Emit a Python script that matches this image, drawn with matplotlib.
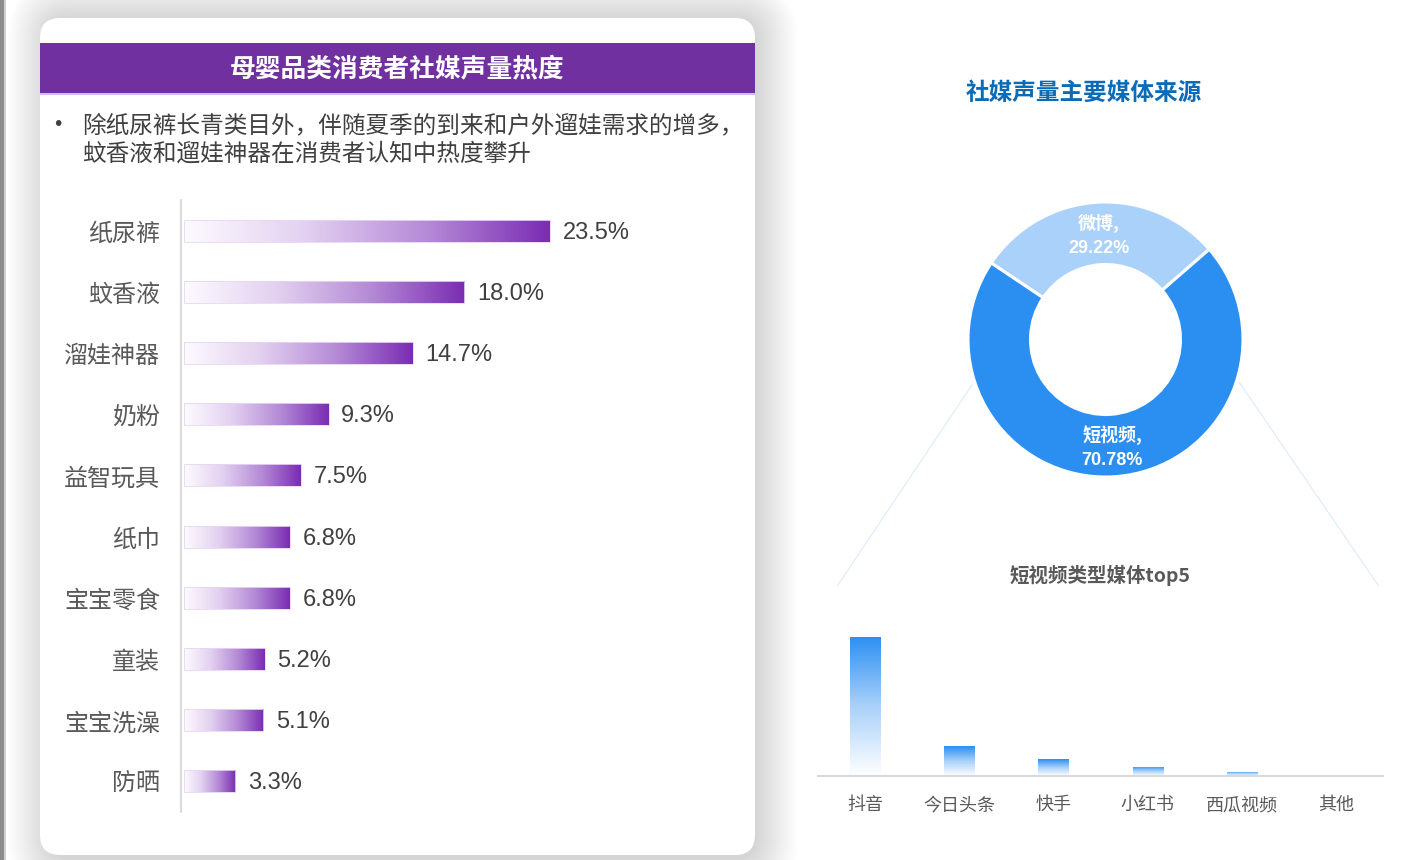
import numpy as np
import matplotlib
matplotlib.use('Agg')
import matplotlib.pyplot as plt
from matplotlib.patches import FancyBboxPatch, Rectangle
from matplotlib.colors import LinearSegmentedColormap

plt.rcParams['font.family'] = ['Liberation Sans', 'Noto Sans CJK SC', 'DejaVu Sans']

# ---------------- data ----------------
panel_title = '母婴品类消费者社媒声量热度'
bullet_lines = ['除纸尿裤长青类目外，伴随夏季的到来和户外遛娃需求的增多，',
                '蚊香液和遛娃神器在消费者认知中热度攀升']
categories = ['纸尿裤', '蚊香液', '溜娃神器', '奶粉', '益智玩具', '纸巾', '宝宝零食', '童装', '宝宝洗澡', '防晒']
shares = [23.5, 18.0, 14.7, 9.3, 7.5, 6.8, 6.8, 5.2, 5.1, 3.3]

donut_title = '社媒声量主要媒体来源'
media = ['微博', '短视频']
media_share = [29.22, 70.78]

sub_title = '短视频类型媒体top5'
platforms = ['抖音', '今日头条', '快手', '小红书', '西瓜视频', '其他']
platform_values = [65.8, 14.2, 8.0, 4.3, 1.9, 0.5]

# ---------------- figure ----------------
W, H = 1412, 860
fig = plt.figure(figsize=(W / 100, H / 100), dpi=100)
fig.patch.set_facecolor('white')


def fax(left, top, width, height):
    return fig.add_axes([left / W, 1 - (top + height) / H, width / W, height / H])


bg = fax(0, 0, W, H)
bg.set_xlim(0, W)
bg.set_ylim(H, 0)
bg.axis('off')
bg.set_zorder(-10)

# window edge strip
bg.add_patch(Rectangle((0, 0), 4, H, color='#8c8c8c', lw=0))
bg.add_patch(Rectangle((4, 0), 2, H, color='#cfcfcf', lw=0))

# card shadow
cx0, cy0, cx1, cy1 = 40, 18, 755, 855
for i in range(1, 22):
    p = i * 2.0
    bg.add_patch(FancyBboxPatch((cx0 + 10, cy0 + 2), cx1 - cx0 - 10, cy1 - cy0,
                                boxstyle=f'round,pad={p},rounding_size={20 + p}',
                                fc='black', ec='none', alpha=0.009, zorder=1))
# card
bg.add_patch(FancyBboxPatch((cx0, cy0), cx1 - cx0, cy1 - cy0,
                            boxstyle='round,pad=0,rounding_size=20',
                            fc='white', ec='none', zorder=2))
# header band
bg.add_patch(Rectangle((cx0, 43), cx1 - cx0, 50, fc='#7030A0', ec='none', zorder=3))
bg.add_patch(Rectangle((cx0, 93), cx1 - cx0, 1.5, fc='#D8B8EE', ec='none', zorder=3))
bg.text((cx0 + cx1) / 2, 69, panel_title, color='white', fontsize=18.5, fontweight='bold',
        ha='center', va='center', zorder=4, family=['Noto Sans CJK SC'])

# bullet text
bg.text(58, 125, '•', color='#404040', fontsize=15, ha='center', va='center', zorder=4)
for k, line in enumerate(bullet_lines):
    bg.text(82, 126 + 28 * k, line, color='#404040', fontsize=17, ha='left', va='center',
            zorder=4, family=['Noto Sans CJK SC'])

# ---------------- left horizontal bar chart ----------------
px_per_unit = 15.57
ax = fax(181, 200, 560, 612)
ax.set_facecolor('none')
xl = (-3 / px_per_unit, (560 - 3) / px_per_unit)
n = len(categories)
ypos = np.arange(n)
purple = LinearSegmentedColormap.from_list('pur', ['#FDFBFE', '#E2D0F0', '#B48AD6', '#7A2DB3'])
bars = ax.barh(ypos, shares, height=0.36, color='none', edgecolor='#E6D6F3', linewidth=0.6, zorder=3)
grad_h = np.linspace(0, 1, 256).reshape(1, -1)
for b in bars:
    x0, y0, w, h = b.get_x(), b.get_y(), b.get_width(), b.get_height()
    im = ax.imshow(grad_h, cmap=purple, extent=[x0, x0 + w, y0, y0 + h], aspect='auto',
                   zorder=2, interpolation='bilinear')
    im.set_clip_path(b)
for yi, v in zip(ypos, shares):
    ax.annotate(f'{v:.1f}%', (v, yi), xytext=(9, -1.5), textcoords='offset points',
                ha='left', va='center', fontsize=17, color='#404040')
ax.set_xlim(*xl)
ax.set_ylim(n - 0.5, -0.5)
ax.set_yticks(ypos)
ax.set_yticklabels(categories, fontsize=17.3, color='#595959', family=['Noto Sans CJK SC'])
ax.tick_params(axis='y', length=0, pad=15)
ax.set_xticks([])
for s in ['top', 'right', 'bottom']:
    ax.spines[s].set_visible(False)
ax.spines['left'].set_color('#D4D4D4')
ax.spines['left'].set_linewidth(1.2)

# ---------------- donut ----------------
bg.text(1084, 93, donut_title, color='#0B6BB6', fontsize=17, fontweight='bold',
        ha='center', va='center', family=['Noto Sans CJK SC'])
dcx, dcy, dr = 1105.5, 339.5, 137.5
size = 300
axd = fax(dcx - size / 2, dcy - size / 2, size, size)
axd.set_facecolor('none')
rad = dr / (size / 2)
wedges, _ = axd.pie(media_share, colors=['#A9D1FA', '#2B8FF2'], startangle=41,
                    counterclock=True, radius=rad,
                    wedgeprops=dict(width=rad * (dr - 75) / dr, edgecolor='white', linewidth=2.2))
axd.set_xlim(-1, 1)
axd.set_ylim(-1, 1)
axd.set_aspect('equal')
for w, lbl, val in zip(wedges, media, media_share):
    ang = np.deg2rad((w.theta1 + w.theta2) / 2)
    r = w.r - w.width / 2
    x, y = r * np.cos(ang), r * np.sin(ang)
    axd.annotate(f'{lbl},', (x, y), xytext=(0, 7.5), textcoords='offset points', ha='center',
                 va='center', color='white', fontsize=13, fontweight='bold',
                 family=['Noto Sans CJK SC'])
    axd.annotate(f'{val:.2f}%', (x, y), xytext=(0, -11), textcoords='offset points', ha='center',
                 va='center', color='white', fontsize=13, fontweight='bold')

# connector lines (decorative)
for ang_deg, end in [(198.8, (838, 585)), (-17.9, (1378, 585))]:
    a = np.deg2rad(ang_deg)
    sx, sy = dcx + 141 * np.cos(a), dcy - 141 * np.sin(a)
    bg.plot([sx, end[0]], [sy, end[1]], color='#DDEBFB', lw=0.8, zorder=1)

# ---------------- short video sub-chart ----------------
bg.text(1100, 575, sub_title, color='#595959', fontsize=14, fontweight='bold',
        ha='center', va='center', family=['Noto Sans CJK SC', 'Liberation Sans'])
axb = fax(818, 600, 565, 176)
axb.set_facecolor('none')
xb = np.arange(len(platforms))
vbars = axb.bar(xb, platform_values, width=0.32, color='none', edgecolor='none', zorder=3)
blue = LinearSegmentedColormap.from_list('blu', ['#FFFFFF', '#A9D1FA', '#2B8FF2'])
grad_v = np.linspace(1, 0, 256).reshape(-1, 1)
for b in vbars:
    x0, y0, w, h = b.get_x(), b.get_y(), b.get_width(), b.get_height()
    im = axb.imshow(grad_v, cmap=blue, extent=[x0, x0 + w, y0, y0 + h], aspect='auto',
                    zorder=2, interpolation='bilinear')
    im.set_clip_path(b)
axb.set_xlim(-0.5, len(platforms) - 0.5)
axb.set_ylim(0, platform_values[0] * 176 / 139)
axb.set_yticks([])
axb.set_xticks(xb)
axb.set_xticklabels(platforms, fontsize=13, color='#595959', family=['Noto Sans CJK SC'])
axb.tick_params(axis='x', length=0, pad=14.5)
for s in ['top', 'right', 'left']:
    axb.spines[s].set_visible(False)
axb.spines['bottom'].set_color('#D9D9D9')
axb.spines['bottom'].set_linewidth(1.5)

fig.savefig('out.png', dpi=100, facecolor='white')
